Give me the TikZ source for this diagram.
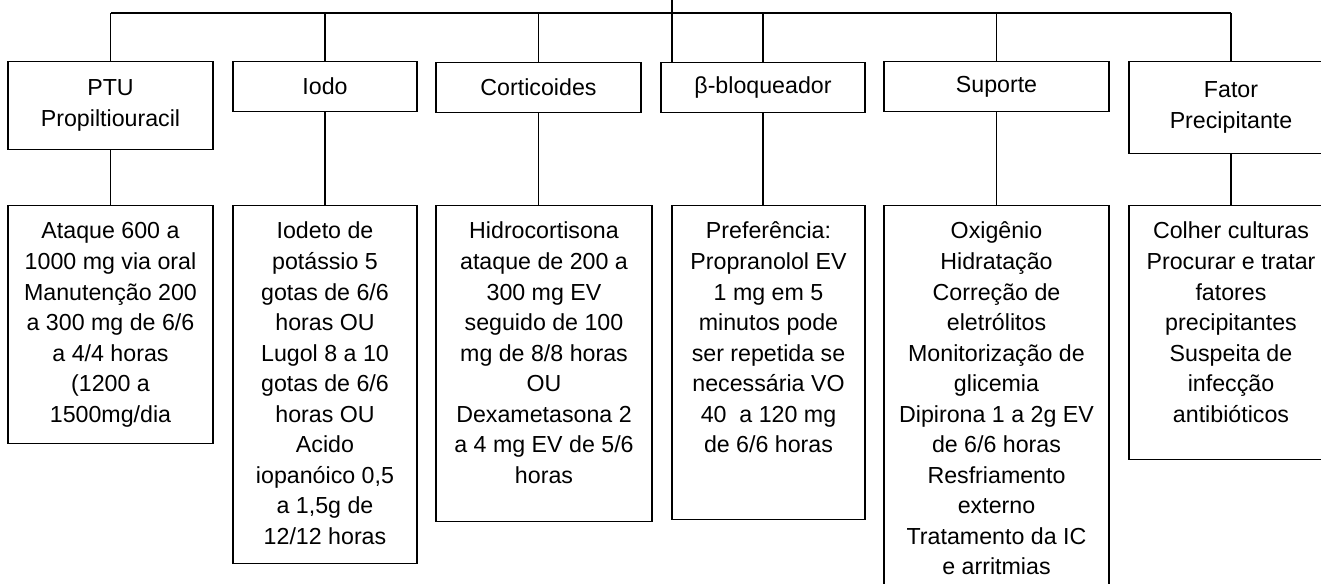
\documentclass[tikz,border=0pt]{standalone}
\usepackage{fontspec}
\setmainfont{Liberation Sans}
\usetikzlibrary{positioning}
\newcommand{\boxtext}[3]{\parbox[c][#2][t]{#1}{\centering\vspace*{9pt}\strut#3}}

\begin{document}
\begin{tikzpicture}[
		x=0.75pt, y=-0.75pt, line width=0.9pt,
		every node/.style={font=\fontsize{17.4}{22.9}\selectfont},
		headbox/.style={rectangle,draw,anchor=north,align=center,inner sep=0pt},
		detailbox/.style={rectangle,draw,anchor=north,inner sep=0pt}
		]
		\clip (0,0) rectangle (1321,583);
		\fill[white] (0,0) rectangle (1321,583);

		\node[headbox, minimum width=153.75pt, minimum height=66pt](hPTU) at (110.5,61){PTU\\Propiltiouracil};
		\node[headbox, minimum width=138pt, minimum height=37.5pt](hIodo) at (325,61){Iodo};
		\node[headbox, minimum width=153.75pt, minimum height=37.5pt](hCort) at (538.5,62){Corticoides};
		\node[headbox, minimum width=153pt, minimum height=37.5pt](hBeta) at (763,62){β-bloqueador};
		\node[headbox, minimum width=168.75pt, minimum height=37.5pt](hSup) at (996.5,61){Suporte};
		\node[headbox, minimum width=153pt, minimum height=69pt](hFator) at (1231,61){Fator\\Precipitante};

		\coordinate (root) at (672,0);
		\coordinate (bus) at (0,13);
		\draw (hPTU.north |- bus) -- (hFator.north |- bus);
		\draw (root) -- (root |- hBeta.north);
		\foreach \h in {hPTU,hIodo,hCort,hBeta,hSup,hFator}
			\draw (\h.north) -- (\h.north |- bus);

		\node[detailbox](dPTU) at (110.5,205){\boxtext{153.75pt}{178.5pt}{Ataque 600 a\\1000 mg via oral\\Manutenção 200\\a 300 mg de 6/6\\a 4/4 horas\\(1200 a\\1500mg/dia}};
		\node[detailbox](dIodo) at (325,205){\boxtext{138pt}{268.5pt}{Iodeto de\\potássio 5\\gotas de 6/6\\horas OU\\Lugol 8 a 10\\gotas de 6/6\\horas OU\\Acido\\iopanóico 0,5\\a 1,5g de\\12/12 horas}};
		\node[detailbox](dCort) at (544,205){\boxtext{162pt}{237pt}{Hidrocortisona\\ataque de 200 a\\300 mg EV\\seguido de 100\\mg de 8/8 horas\\OU\\Dexametasona 2\\a 4 mg EV de 5/6\\horas}};
		\node[detailbox](dBeta) at (768.5,205){\boxtext{144.75pt}{235.5pt}{Preferência:\\Propranolol EV\\1 mg em 5\\minutos pode\\ser repetida se\\necessária VO\\40\ \ a 120 mg\\de 6/6 horas}};
		\node[detailbox](dSup) at (996.5,205){\boxtext{168.75pt}{300pt}{Oxigênio\\Hidratação\\Correção de\\eletrólitos\\Monitorização de\\glicemia\\Dipirona 1 a 2g EV\\de 6/6 horas\\Resfriamento\\externo\\Tratamento da IC\\e arritmias}};
		\node[detailbox](dFator) at (1231,205){\boxtext{153pt}{190.5pt}{Colher culturas\\Procurar e tratar\\fatores\\precipitantes\\Suspeita de\\infecção\\antibióticos}};

		\foreach \h/\d in {hPTU/dPTU,hIodo/dIodo,hCort/dCort,hBeta/dBeta,hSup/dSup,hFator/dFator}
			\draw (\h.south) -- (\h.south |- \d.north);
	\end{tikzpicture}
\end{document}
